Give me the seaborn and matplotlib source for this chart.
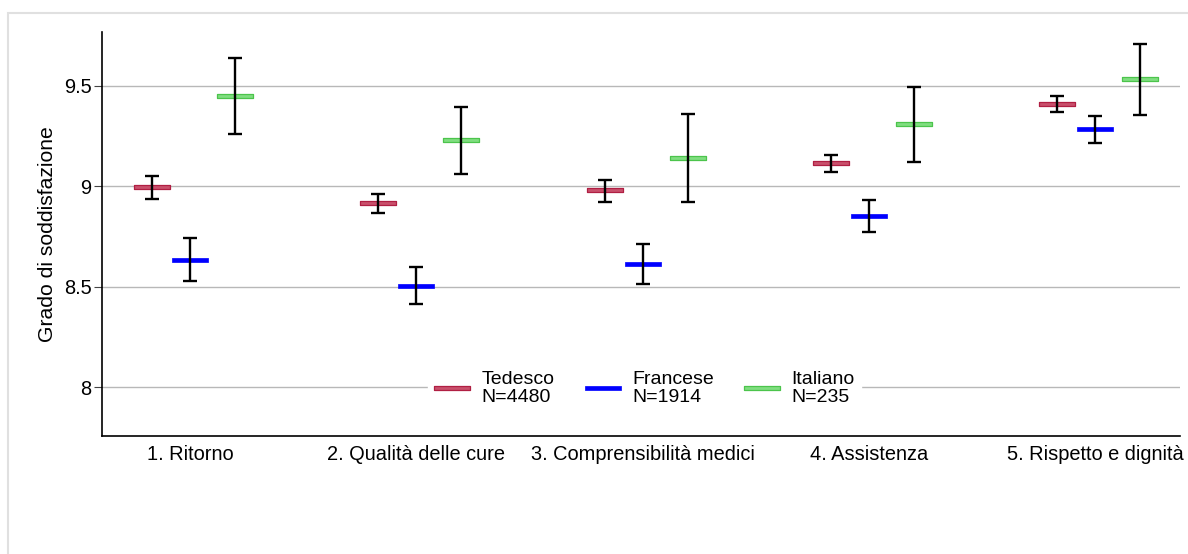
import numpy as np
import pandas as pd
import matplotlib
matplotlib.use("Agg")
import matplotlib.pyplot as plt
import seaborn as sns
from matplotlib.path import Path
from matplotlib.lines import Line2D
from matplotlib.patches import Rectangle

# Data
categorie = ["1. Ritorno", "2. Qualità delle cure", "3. Comprensibilità medici",
             "4. Assistenza", "5. Rispetto e dignità"]
lingue = ["Tedesco", "Francese", "Italiano"]
etichette = ["Tedesco\nN=4480", "Francese\nN=1914", "Italiano\nN=235"]

media_tedesco = [8.994, 8.914, 8.980, 9.115, 9.412]
basso_tedesco = [8.934, 8.867, 8.923, 9.070, 9.372]
alto_tedesco = [9.051, 8.960, 9.031, 9.156, 9.450]

media_francese = [8.634, 8.504, 8.612, 8.851, 9.283]
basso_francese = [8.530, 8.414, 8.512, 8.771, 9.213]
alto_francese = [8.744, 8.597, 8.711, 8.932, 9.352]

media_italiano = [9.449, 9.229, 9.139, 9.309, 9.532]
basso_italiano = [9.259, 9.063, 8.923, 9.121, 9.354]
alto_italiano = [9.638, 9.395, 9.359, 9.493, 9.708]

# Style
sns.set_theme(style="white")
plt.rcParams.update({
    "font.family": ["Liberation Sans", "DejaVu Sans"],
    "font.size": 14.4,
    "text.color": "black",
    "axes.labelcolor": "black",
})

stile = {
    "Tedesco": dict(face="#c9506c", edge="#b01f43", ew=0.9, off=-0.168),
    "Francese": dict(face="#0000ff", edge="#0000ff", ew=0.5, off=0.0),
    "Italiano": dict(face="#80de80", edge="#4cc44c", ew=0.9, off=0.199),
}

frames = []
for lingua, m, lo, hi in zip(lingue,
                             [media_tedesco, media_francese, media_italiano],
                             [basso_tedesco, basso_francese, basso_italiano],
                             [alto_tedesco, alto_francese, alto_italiano]):
    frames.append(pd.DataFrame({
        "categoria": categorie,
        "idx": np.arange(len(categorie)),
        "lingua": lingua,
        "media": m,
        "basso": lo,
        "alto": hi,
    }))
df = pd.concat(frames, ignore_index=True)
df["x"] = df["idx"] + df["lingua"].map({k: v["off"] for k, v in stile.items()})

# Flat rectangle marker
barra = Path([(-1, -0.135), (1, -0.135), (1, 0.135), (-1, 0.135), (-1, -0.135)],
             [Path.MOVETO, Path.LINETO, Path.LINETO, Path.LINETO, Path.CLOSEPOLY])

fig = plt.figure(figsize=(11.88, 5.54), dpi=100)
ax = fig.add_axes([0.0859, 0.2130, 0.9074, 0.7292])

for lingua in lingue:
    sub = df[df["lingua"] == lingua]
    st = stile[lingua]
    sns.scatterplot(data=sub, x="x", y="media", ax=ax, marker=barra, s=26.5 ** 2,
                    color=st["face"], edgecolor=st["edge"], linewidth=st["ew"],
                    zorder=3, legend=False)
    ax.errorbar(sub["x"], sub["media"],
                yerr=[sub["media"] - sub["basso"], sub["alto"] - sub["media"]],
                fmt="none", ecolor="black", elinewidth=1.7, capsize=5.0,
                capthick=1.7, zorder=4)

ax.set_xlim(-0.389, 4.376)
ax.set_ylim(7.756, 9.768)
ax.set_yticks([8, 8.5, 9, 9.5])
ax.set_yticklabels(["8", "8.5", "9", "9.5"])
ax.set_xticks(np.arange(len(categorie)))
ax.set_xticklabels(categorie)
ax.set_xlabel("")
ax.set_ylabel("Grado di soddisfazione", labelpad=5, fontsize=15.2, color="black")

ax.yaxis.grid(True, color="#b8b8b8", linewidth=1.0, zorder=0)
ax.xaxis.grid(False)
ax.set_axisbelow(True)

for s in ["top", "right"]:
    ax.spines[s].set_visible(False)
for s in ["left", "bottom"]:
    ax.spines[s].set_color("black")
    ax.spines[s].set_linewidth(1.2)

ax.tick_params(axis="y", left=True, length=6, width=0.8, color="#444444",
               pad=1.5, labelsize=14.4, labelcolor="black")
ax.tick_params(axis="x", bottom=False, length=0, pad=6.5, labelsize=14.4,
               labelcolor="black")

handles = [Line2D([], [], linestyle="none", marker=barra, markersize=26.5,
                  markerfacecolor=stile[l]["face"], markeredgecolor=stile[l]["edge"],
                  markeredgewidth=stile[l]["ew"]) for l in lingue]
leg = ax.legend(handles, etichette, loc="center", bbox_to_anchor=(0.503, 0.118),
                ncol=3, frameon=True, framealpha=1, facecolor="white",
                edgecolor="white", fancybox=False, handlelength=1.9,
                handletextpad=0.55, columnspacing=1.55, borderpad=0.3,
                fontsize=14)
for t in leg.get_texts():
    t.set_linespacing(1.05)
    t.set_color("black")
leg.set_zorder(5)

# light frame around the figure (top and left edges visible)
fig.add_artist(Rectangle((8 / 1188, -0.1), 1.2, 1 - 13 / 554 + 0.1,
                         transform=fig.transFigure, fill=False,
                         edgecolor="#e0e0e0", linewidth=1.5))

fig.savefig("out.png", dpi=100)
